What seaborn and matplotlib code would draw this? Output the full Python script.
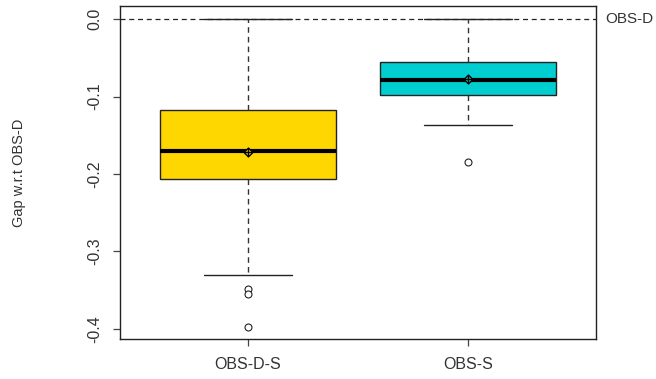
"""Boxplot of gaps w.r.t OBS-D for two settings, R base-graphics look."""
import numpy as np
import pandas as pd
import matplotlib
matplotlib.use("Agg")
import matplotlib.pyplot as plt
import seaborn as sns

# values
groups = ["OBS-D-S", "OBS-S"]
whisker_low = [-0.331, -0.137]
q1 = [-0.206, -0.098]
median = [-0.170, -0.079]
q3 = [-0.117, -0.055]
whisker_high = [0.0, 0.0]
means = [-0.171, -0.077]
outlier_group = ["OBS-D-S", "OBS-D-S", "OBS-D-S", "OBS-S"]
outlier_value = [-0.348, -0.355, -0.397, -0.185]
y_ticks = [0.0, -0.1, -0.2, -0.3, -0.4]
y_tick_labels = ["0.0", "-0.1", "-0.2", "-0.3", "-0.4"]
box_colors = ["#FFD700", "#00CED1"]

# five points per group -> quartiles land exactly on q1/median/q3
rows = []
for i, g in enumerate(groups):
    for v in (whisker_low[i], q1[i], median[i], q3[i], whisker_high[i]):
        rows.append({"group": g, "value": v})
df = pd.DataFrame(rows)
df_mean = pd.DataFrame({"group": groups, "value": means})
df_out = pd.DataFrame({"group": outlier_group, "value": outlier_value})

sns.set_style("white")
plt.rcParams["font.family"] = ["Liberation Sans", "DejaVu Sans"]
text_col = "#333333"

fig = plt.figure(figsize=(6.56, 3.79), dpi=100)
ax = fig.add_axes([0.183, 0.1055, 0.7255, 0.8785])

ax.axhline(0, color="#222222", lw=0.9, ls=(0, (4, 3)), zorder=1)

sns.boxplot(
    data=df, x="group", y="value", hue="group", order=groups,
    palette=box_colors, saturation=1, whis=np.inf, width=0.8,
    linecolor="#222222", linewidth=1.0, legend=False, ax=ax,
    medianprops=dict(color="black", linewidth=3),
    whiskerprops=dict(color="#333333", linestyle=(0, (4, 3)), linewidth=1.0),
    capprops=dict(color="#222222", linewidth=1.0),
)

sns.stripplot(
    data=df_out, x="group", y="value", order=groups, jitter=False,
    color="white", edgecolor="#222222", linewidth=0.8, size=5,
    marker="o", ax=ax, zorder=4,
)
sns.stripplot(
    data=df_mean, x="group", y="value", order=groups, hue="group",
    palette=box_colors, jitter=False, edgecolor="black", linewidth=1.0,
    size=4.5, marker="D", legend=False, ax=ax, zorder=5,
)
sns.stripplot(
    data=df_mean, x="group", y="value", order=groups, jitter=False,
    color="black", linewidth=1.0, size=5.5, marker="+", ax=ax, zorder=6,
)

ax.set_xlim(-0.58, 1.58)
ax.set_ylim(-0.413, 0.0168)
ax.set_yticks(y_ticks)
ax.set_yticklabels(y_tick_labels, rotation=90, va="center")
ax.set_xticks(range(len(groups)))
ax.set_xticklabels(groups)
ax.tick_params(axis="both", direction="out", length=5, width=0.9,
               color="#444444", labelsize=11.5, labelcolor=text_col, pad=8,
               left=True, bottom=True)
ax.set_xlabel("")
ax.set_ylabel("Gap w.r.t OBS-D", fontsize=10.5, color=text_col, labelpad=44)

for s in ax.spines.values():
    s.set_color("#222222")
    s.set_linewidth(1.0)

ax.text(1.02, 0.0, "OBS-D", transform=ax.get_yaxis_transform(),
        ha="left", va="center", fontsize=11, color=text_col, clip_on=False)

fig.savefig("out.png", dpi=100)
